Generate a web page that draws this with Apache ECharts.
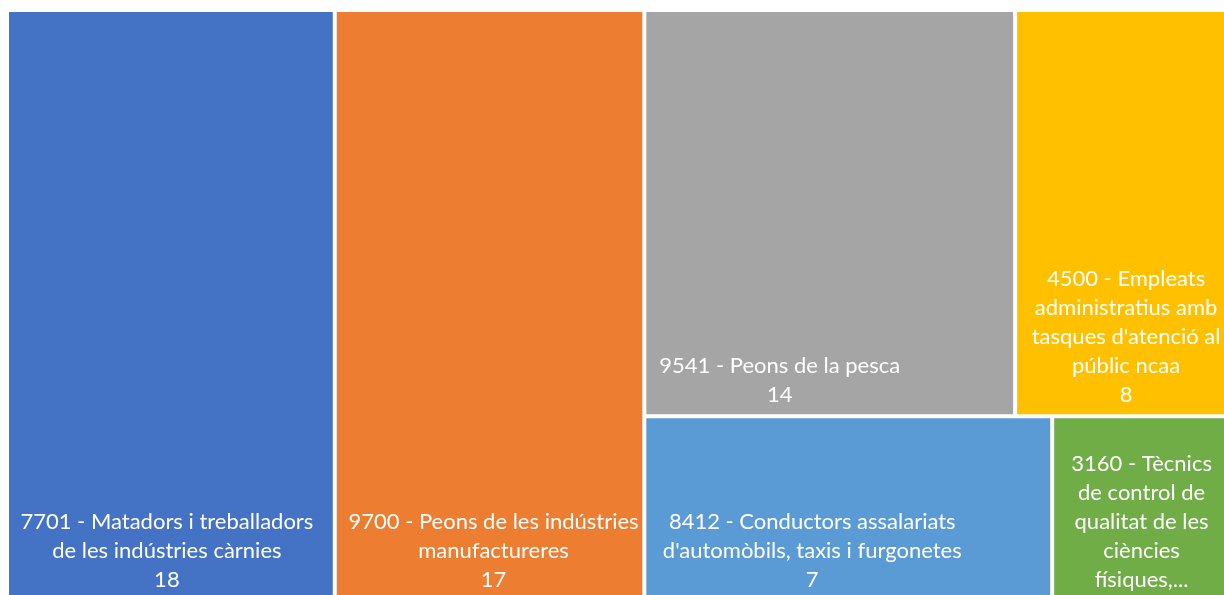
<!DOCTYPE html>
<html>
<head>
<meta charset="utf-8">
<script src="https://cdn.jsdelivr.net/npm/echarts@6/dist/echarts.min.js"></script>
<style>
html,body{margin:0;padding:0;background:#fff;}
#chart{width:1224px;height:595px;}
</style>
</head>
<body>
<div id="chart"></div>
<script>
// Data
const categories = [
  "7701 - Matadors i treballadors\nde les indústries càrnies",
  "9700 - Peons de les indústries\nmanufactureres",
  "9541 - Peons de la pesca",
  "4500 - Empleats\nadministratius amb\ntasques d'atenció al\npúblic ncaa",
  "8412 - Conductors assalariats\nd'automòbils, taxis i furgonetes",
  "3160 - Tècnics\nde control de\nqualitat de les\nciències\nfísiques,..."
];
const values = [18, 17, 14, 8, 7, 3];
const showValue = [true, true, true, true, true, false];

// Styles
const colors = ['#4472C4', '#ED7D31', '#A5A5A5', '#FFC000', '#5B9BD5', '#70AD47'];
const labelOffsets = [[-4, 0], [4, 0], [-50, 0], [5, 0], [-36, 0], [2, 0]];

const data = categories.map((c, i) => ({
  name: c,
  value: values[i],
  itemStyle: { color: colors[i] },
  label: { offset: labelOffsets[i] }
}));

const chart = echarts.init(document.getElementById('chart'), null, { renderer: 'canvas' });
chart.setOption({
  animation: false,
  series: [{
    type: 'treemap',
    left: 9, top: 12, right: -1, bottom: -4,
    roam: false,
    nodeClick: false,
    breadcrumb: { show: false },
    squareRatio: 1,
    itemStyle: { borderWidth: 0, gapWidth: 4, borderColor: '#fff' },
    levels: [{ itemStyle: { borderWidth: 0, gapWidth: 4 } }],
    label: {
      show: true,
      position: 'insideBottom',
      distance: 0,
      color: '#fff',
      fontFamily: 'Lato',
      fontSize: 22,
      lineHeight: 29,
      align: 'center',
      overflow: 'none',
      formatter: p => {
        const i = categories.indexOf(p.name);
        return showValue[i] ? p.name + '\n' + p.value : p.name;
      }
    },
    data: data
  }]
});
</script>
</body>
</html>
